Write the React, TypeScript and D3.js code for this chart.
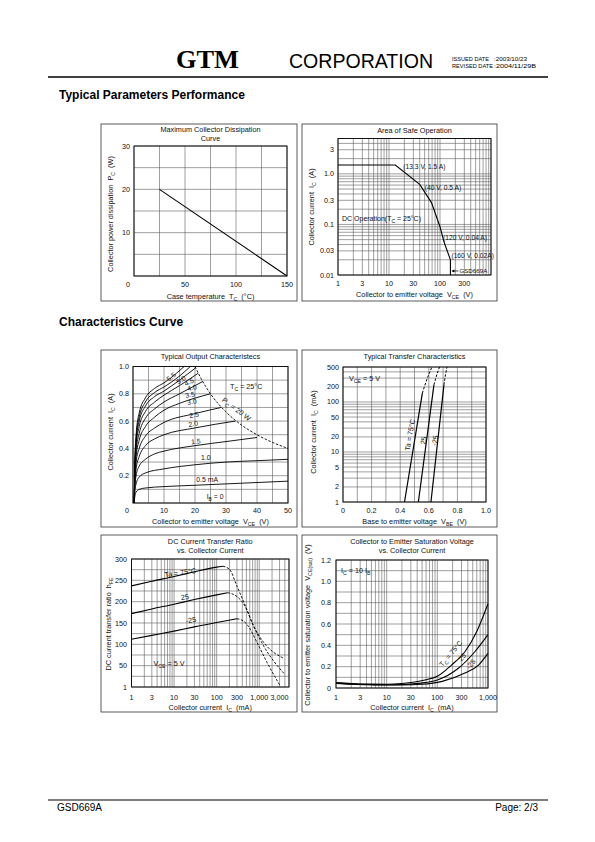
import React from "react";
import * as d3 from "d3";

const SANS = "'Liberation Sans', Arial, Helvetica, sans-serif";
const SERIF = "'Liberation Serif', 'Times New Roman', serif";
const GRID = "#5e5e5e";

type Pt = [number, number];
type Part = string | { sub: string };

// ---------------- page text ----------------
const headerBrand = "GTM";
const headerCorp = "CORPORATION";
const dateLabels = ["ISSUED DATE", "REVISED DATE"];
const dateValues = [":2003/10/23", ":2004/11/29B"];
const sectionTitles = ["Typical Parameters Performance", "Characteristics Curve"];
const footerLeft = "GSD669A";
const footerRight = "Page: 2/3";

// ---------------- Chart 1: Maximum Collector Dissipation ----------------
const dissXTicks = [0, 50, 100, 150];
const dissXLabels = ["0", "50", "100", "150"];
const dissYTicks = [30, 20, 10];
const dissYLabels = ["30", "20", "10"];
const dissGridX = [0, 25, 50, 75, 100, 125, 150];
const dissGridY = [0, 5, 10, 15, 20, 25, 30];
const dissCurve: Pt[] = [[25, 20], [150, 0]];

// ---------------- Chart 2: Area of Safe Operation ----------------
const asoXTicks = [1, 3, 10, 30, 100, 300];
const asoXLabels = ["1", "3", "10", "30", "100", "300"];
const asoYTicks = [3, 1, 0.3, 0.1, 0.03, 0.01];
const asoYLabels = ["3", "1.0", "0.3", "0.1", "0.03", "0.01"];
const asoGridX = [1, 2, 3, 4, 5, 6, 7, 8, 9, 10, 20, 30, 40, 50, 60, 70, 80, 90, 100, 200, 300, 400, 500, 600, 700, 800, 900, 1000];
const asoGridY = [0.01, 0.02, 0.03, 0.04, 0.05, 0.06, 0.07, 0.08, 0.09, 0.1, 0.2, 0.3, 0.4, 0.5, 0.6, 0.7, 0.8, 0.9, 1, 2, 3, 4, 5];
const asoVoltage = [1, 13.3, 40, 68, 100, 120, 160, 160];
const asoCurrent = [1.5, 1.5, 0.62, 0.27, 0.09, 0.045, 0.02, 0.01];

// ---------------- Chart 3: Typical Output Characteristics ----------------
const outXTicks = [0, 10, 20, 30, 40, 50];
const outXLabels = ["0", "10", "20", "30", "40", "50"];
const outYTicks = [1.0, 0.8, 0.6, 0.4, 0.2];
const outYLabels = ["1.0", "0.8", "0.6", "0.4", "0.2"];
const outGridX = [0, 5, 10, 15, 20, 25, 30, 35, 40, 45, 50];
const outGridY = [0, 0.1, 0.2, 0.3, 0.4, 0.5, 0.6, 0.7, 0.8, 0.9, 1.0];
const ib05: Pt[] = [[0.4, 0], [0.6, 0.05], [1, 0.08], [2, 0.1], [4, 0.11], [10, 0.12], [20, 0.13], [30, 0.14], [40, 0.15], [50, 0.16]];
const ib10: Pt[] = [[0.4, 0], [0.6, 0.09], [1, 0.14], [2, 0.19], [4, 0.22], [10, 0.25], [20, 0.28], [30, 0.3], [40, 0.31], [50, 0.32]];
const ib15: Pt[] = [[0.4, 0], [0.6, 0.12], [1, 0.2], [2, 0.27], [4, 0.32], [7, 0.36], [10, 0.38], [20, 0.42], [30, 0.45], [40, 0.48]];
const ib20: Pt[] = [[0.4, 0], [0.6, 0.15], [1, 0.25], [2, 0.34], [4, 0.42], [7, 0.47], [10, 0.5], [20, 0.55], [33, 0.6]];
const ib25: Pt[] = [[0.4, 0], [0.6, 0.18], [1, 0.3], [2, 0.4], [4, 0.49], [7, 0.55], [10, 0.59], [20, 0.655], [28.5, 0.7]];
const ib30: Pt[] = [[0.4, 0], [0.6, 0.21], [1, 0.34], [2, 0.46], [4, 0.56], [7, 0.63], [10, 0.68], [15, 0.73], [25, 0.8]];
const ib35: Pt[] = [[0.4, 0], [0.6, 0.23], [1, 0.38], [2, 0.51], [4, 0.62], [7, 0.69], [10, 0.74], [15, 0.8], [22.5, 0.89]];
const ib40: Pt[] = [[0.4, 0], [0.6, 0.25], [1, 0.42], [2, 0.56], [4, 0.67], [7, 0.74], [10, 0.79], [15, 0.86], [21, 0.95]];
const ib45: Pt[] = [[0.4, 0], [0.6, 0.27], [1, 0.45], [2, 0.6], [4, 0.71], [7, 0.78], [10, 0.82], [15, 0.9], [20.2, 0.99]];
const ib50: Pt[] = [[0.4, 0], [0.6, 0.28], [1, 0.47], [2, 0.63], [4, 0.74], [7, 0.81], [10, 0.85], [15, 0.93], [18.5, 1.0]];
const ib55: Pt[] = [[0.4, 0], [0.6, 0.3], [1, 0.5], [2, 0.66], [4, 0.77], [7, 0.84], [10, 0.88], [14, 0.95], [16.5, 1.0]];
const outCurves = [ib05, ib10, ib15, ib20, ib25, ib30, ib35, ib40, ib45, ib50, ib55];
const pcLimit: Pt[] = [[20, 1.0], [22, 0.91], [25, 0.8], [30, 0.667], [35, 0.571], [40, 0.5], [45, 0.444], [50, 0.4]];
const outLabelText = ["5.5", "5.0", "4.5", "4.0", "3.5", "3.0", "2.5", "2.0", "1.5", "1.0", "0.5 mA"];
const outLabelV = [12.3, 15.5, 18.1, 19.0, 18.4, 19.0, 19.7, 19.4, 20.3, 23.5, 23.9];
const outLabelI = [0.924, 0.902, 0.887, 0.844, 0.793, 0.742, 0.647, 0.58, 0.451, 0.335, 0.175];
const outLabelRot = [-40, -35, -25, -15, -12, -10, -10, -8, -5, 0, 0];

// ---------------- Chart 4: Typical Transfer Characteristics ----------------
const trXTicks = [0, 0.2, 0.4, 0.6, 0.8, 1.0];
const trXLabels = ["0", "0.2", "0.4", "0.6", "0.8", "1.0"];
const trYTicks = [500, 200, 100, 50, 20, 10, 5, 2, 1];
const trYLabels = ["500", "200", "100", "50", "20", "10", "5", "2", "1"];
const trGridX = [0, 0.1, 0.2, 0.3, 0.4, 0.5, 0.6, 0.7, 0.8, 0.9, 1.0];
const trGridY = [1, 2, 3, 4, 5, 6, 7, 8, 9, 10, 20, 30, 40, 50, 60, 70, 80, 90, 100, 200, 300, 400, 500];
const tr75Solid: Pt[] = [[0.43, 1], [0.555, 150]];
const tr75Dash: Pt[] = [[0.555, 150], [0.59, 300], [0.622, 500]];
const tr25Solid: Pt[] = [[0.527, 1], [0.636, 220]];
const tr25Dash: Pt[] = [[0.636, 220], [0.656, 350], [0.675, 500]];
const trM25Solid: Pt[] = [[0.615, 1], [0.706, 220]];
const trM25Dash: Pt[] = [[0.706, 220], [0.717, 350], [0.727, 500]];

// ---------------- Chart 5: hFE vs IC ----------------
const hfeXTicks = [1, 3, 10, 30, 100, 300, 1000, 3000];
const hfeXLabels = ["1", "3", "10", "30", "100", "300", "1,000", "3,000"];
const hfeYTicks = [300, 250, 200, 150, 100, 50, 0];
const hfeYLabels = ["300", "250", "200", "150", "100", "50", "1"];
const hfeGridX = [1, 2, 3, 4, 5, 6, 7, 8, 9, 10, 20, 30, 40, 50, 60, 70, 80, 90, 100, 200, 300, 400, 500, 600, 700, 800, 900, 1000, 2000, 3000, 4000, 5000];
const hfeGridY = [0, 25, 50, 75, 100, 125, 150, 175, 200, 225, 250, 275, 300];
const hfe75Solid: Pt[] = [[1, 237], [3, 248], [10, 259], [30, 270], [100, 281], [140, 283]];
const hfe75Dash: Pt[] = [[140, 283], [200, 276], [295, 238], [500, 184], [720, 145], [1240, 106], [3800, 67]];
const hfe25Solid: Pt[] = [[1, 172], [3, 183], [10, 194], [30, 205], [100, 216], [180, 221]];
const hfe25Dash: Pt[] = [[180, 221], [300, 212], [460, 190], [720, 145], [1240, 98], [3800, 32]];
const hfeM25Solid: Pt[] = [[1, 112], [3, 121], [10, 131], [30, 141], [100, 151], [300, 160]];
const hfeM25Dash: Pt[] = [[300, 160], [420, 155], [550, 143], [870, 106], [1500, 59], [3000, 5]];

// ---------------- Chart 6: VCE(sat) vs IC ----------------
const satXTicks = [1, 3, 10, 30, 100, 300, 1000];
const satXLabels = ["1", "3", "10", "30", "100", "300", "1,000"];
const satYTicks = [1.2, 1.0, 0.8, 0.6, 0.4, 0.2, 0];
const satYLabels = ["1.2", "1.0", "0.8", "0.6", "0.4", "0.2", "0"];
const satGridX = [1, 2, 3, 4, 5, 6, 7, 8, 9, 10, 20, 30, 40, 50, 60, 70, 80, 90, 100, 200, 300, 400, 500, 600, 700, 800, 900, 1000];
const satGridY = [0, 0.1, 0.2, 0.3, 0.4, 0.5, 0.6, 0.7, 0.8, 0.9, 1.0, 1.1, 1.2];
const sat75: Pt[] = [[1, 0.05], [2, 0.042], [5, 0.036], [10, 0.035], [20, 0.042], [57, 0.075], [100, 0.11], [190, 0.215], [350, 0.34], [600, 0.53], [1000, 0.79]];
const sat25: Pt[] = [[1, 0.046], [2, 0.038], [5, 0.032], [10, 0.03], [20, 0.033], [57, 0.05], [100, 0.075], [260, 0.185], [550, 0.34], [1000, 0.5]];
const satM25: Pt[] = [[1, 0.042], [2, 0.035], [5, 0.03], [10, 0.028], [20, 0.028], [50, 0.035], [120, 0.06], [350, 0.14], [650, 0.215], [1000, 0.325]];

// ---------------- helpers ----------------
function Rich({ x, y, parts, size = 7.3, anchor = "start", rotate = 0, weight = "normal" }: any) {
  const nodes: any[] = [];
  let inSub = false;
  (parts as Part[]).forEach((p, i) => {
    if (typeof p === "string") {
      nodes.push(
        <tspan key={i} fontSize={size} dy={inSub ? -size * 0.3 : 0}>
          {p}
        </tspan>
      );
      inSub = false;
    } else {
      nodes.push(
        <tspan key={i} fontSize={size * 0.72} dy={inSub ? 0 : size * 0.3}>
          {p.sub}
        </tspan>
      );
      inSub = true;
    }
  });
  return (
    <text
      x={x}
      y={y}
      textAnchor={anchor}
      fontFamily={SANS}
      fontWeight={weight}
      fontSize={size}
      fill="#111"
      transform={rotate ? `rotate(${rotate} ${x} ${y})` : undefined}
      style={{ whiteSpace: "pre" }}
    >
      {nodes}
    </text>
  );
}

function Panel(props: any) {
  const {
    box, plot, x, y, gridX, gridY, xTicks, xLabels, yTicks, yLabels,
    xLabelY, yLabelX, firstXLabelDx = 0, title, titleY, xTitle, xTitleY,
    yTitle, yTitleX, yTitleY, children,
  } = props;
  const [bx, by, bw, bh] = box;
  const cx = (plot.l + plot.r) / 2;
  return (
    <g>
      <rect x={bx} y={by} width={bw} height={bh} fill="#fff" stroke="#333" strokeWidth={0.8} />
      {gridX.map((v: number, i: number) => (
        <line key={"gx" + i} x1={x(v)} x2={x(v)} y1={plot.t} y2={plot.b} stroke={GRID} strokeWidth={0.6} />
      ))}
      {gridY.map((v: number, i: number) => (
        <line key={"gy" + i} x1={plot.l} x2={plot.r} y1={y(v)} y2={y(v)} stroke={GRID} strokeWidth={0.6} />
      ))}
      <rect x={plot.l} y={plot.t} width={plot.r - plot.l} height={plot.b - plot.t} fill="none" stroke="#111" strokeWidth={1} />
      {children}
      {xTicks.map((v: number, i: number) => (
        <text key={"xt" + i} x={x(v) + (i === 0 ? firstXLabelDx : 0)} y={xLabelY} textAnchor="middle" fontFamily={SANS} fontSize={7.2} fill="#111">
          {xLabels[i]}
        </text>
      ))}
      {yTicks.map((v: number, i: number) => (
        <text key={"yt" + i} x={yLabelX} y={y(v) + 2.5} textAnchor="end" fontFamily={SANS} fontSize={7.2} fill="#111">
          {yLabels[i]}
        </text>
      ))}
      {title.map((t: string, i: number) => (
        <text key={"ti" + i} x={cx} y={titleY + i * 9.8} textAnchor="middle" fontFamily={SANS} fontSize={7.3} fill="#111">
          {t}
        </text>
      ))}
      <Rich x={cx} y={xTitleY} parts={xTitle} anchor="middle" />
      <Rich x={yTitleX} y={yTitleY} parts={yTitle} anchor="middle" rotate={-90} />
    </g>
  );
}

function path(x: any, y: any, pts: Pt[], curve: any = d3.curveLinear) {
  return d3.line<Pt>().x((d) => x(d[0])).y((d) => y(d[1])).curve(curve)(pts) || "";
}

function Label({ x, y, rot = 0, size = 7, anchor = "middle", children }: any) {
  return (
    <text x={x} y={y + size * 0.35} textAnchor={anchor} fontFamily={SANS} fontSize={size} fill="#111"
      transform={rot ? `rotate(${rot} ${x} ${y})` : undefined}>
      {children}
    </text>
  );
}

// ---------------- charts ----------------
function DissChart() {
  const plot = { l: 134, r: 287, t: 146, b: 276 };
  const x = d3.scaleLinear().domain([0, 150]).range([plot.l, plot.r]);
  const y = d3.scaleLinear().domain([0, 30]).range([plot.b, plot.t]);
  return (
    <Panel box={[101, 124, 196, 177]} plot={plot} x={x} y={y} gridX={dissGridX} gridY={dissGridY}
      xTicks={dissXTicks} xLabels={dissXLabels} yTicks={dissYTicks} yLabels={dissYLabels}
      xLabelY={287} yLabelX={130} firstXLabelDx={-6}
      title={["Maximum Collector Dissipation", "Curve"]} titleY={131.5}
      xTitle={["Case temperature  T", { sub: "C" }, "  (°C)"]} xTitleY={298.5}
      yTitle={["Collector power dissipation  P", { sub: "C" }, "  (W)"]} yTitleX={112.5} yTitleY={214}>
      <path d={path(x, y, dissCurve)} fill="none" stroke="#000" strokeWidth={1.1} />
    </Panel>
  );
}

function AsoChart() {
  const plot = { l: 338, r: 491, t: 138.5, b: 275 };
  const x = d3.scaleLog().domain([1, 1000]).range([plot.l, plot.r]);
  const y = d3.scaleLog().domain([0.01, 5]).range([plot.b, plot.t]);
  const pts: Pt[] = asoVoltage.map((v, i) => [v, asoCurrent[i]]);
  const s = 6.7;
  return (
    <Panel box={[302, 124, 195, 177]} plot={plot} x={x} y={y} gridX={asoGridX} gridY={asoGridY}
      xTicks={asoXTicks} xLabels={asoXLabels} yTicks={asoYTicks} yLabels={asoYLabels}
      xLabelY={286} yLabelX={334}
      title={["Area of Safe Operation"]} titleY={132.5}
      xTitle={["Collector to emitter voltage  V", { sub: "CE" }, "  (V)"]} xTitleY={297}
      yTitle={["Collector current  I", { sub: "C" }, "  (A)"]} yTitleX={314} yTitleY={207}>
      <path d={path(x, y, pts)} fill="none" stroke="#000" strokeWidth={1.1} />
      <Label x={x(13.3) + 8} y={y(1.5) + 1.5} size={s} anchor="start">(13.3 V, 1.5 A)</Label>
      <Label x={x(40) + 5} y={y(0.5) - 1.5} size={s} anchor="start">(40 V, 0.5 A)</Label>
      <Rich x={plot.l + 4} y={220.5} parts={["DC Operation(T", { sub: "C" }, " = 25°C)"]} size={7} />
      <Label x={x(120) - 1} y={y(0.04) - 7} size={s} anchor="start">(120 V, 0.04 A)</Label>
      <Label x={x(160) + 1} y={y(0.02) - 4} size={s} anchor="start">(160 V, 0.02A)</Label>
      <line x1={x(160) + 2} x2={x(160) + 8} y1={y(0.012)} y2={y(0.012)} stroke="#000" strokeWidth={0.7} />
      <path d={`M${x(160) + 1},${y(0.012)} l3,-1.5 l0,3 z`} fill="#000" />
      <Label x={x(160) + 9} y={y(0.012)} size={6.2} anchor="start">GSD669A</Label>
    </Panel>
  );
}

function OutputChart() {
  const plot = { l: 133, r: 288, t: 366.5, b: 503 };
  const x = d3.scaleLinear().domain([0, 50]).range([plot.l, plot.r]);
  const y = d3.scaleLinear().domain([0, 1]).range([plot.b, plot.t]);
  return (
    <Panel box={[101, 350, 196, 177]} plot={plot} x={x} y={y} gridX={outGridX} gridY={outGridY}
      xTicks={outXTicks} xLabels={outXLabels} yTicks={outYTicks} yLabels={outYLabels}
      xLabelY={513} yLabelX={129} firstXLabelDx={-6}
      title={["Typical Output Characteristecs"]} titleY={358.5}
      xTitle={["Collector to emitter voltage  V", { sub: "CE" }, "  (V)"]} xTitleY={524}
      yTitle={["Collector current  I", { sub: "C" }, "  (A)"]} yTitleX={112.5} yTitleY={432}>
      {outCurves.map((c, i) => (
        <path key={i} d={path(x, y, c, d3.curveMonotoneX)} fill="none" stroke="#000" strokeWidth={0.9} />
      ))}
      <path d={path(x, y, pcLimit, d3.curveMonotoneX)} fill="none" stroke="#000" strokeWidth={0.9} strokeDasharray="2.5,1.6" />
      {outLabelText.map((t, i) => (
        <Label key={"ol" + i} x={x(outLabelV[i])} y={y(outLabelI[i])} rot={outLabelRot[i]} size={6.9}>{t}</Label>
      ))}
      <Rich x={x(26.5)} y={y(0.044) + 2.4} parts={["I", { sub: "B" }, " = 0"]} size={6.9} anchor="middle" />
      <Rich x={x(31.3)} y={y(0.853) + 2.5} parts={["T", { sub: "C" }, " = 25°C"]} size={7.2} />
      <Rich x={x(32.9)} y={y(0.69) + 2.4} parts={["P", { sub: "C" }, " = 20 W"]} size={7.2} anchor="middle" rotate={37} />
    </Panel>
  );
}

function TransferChart() {
  const plot = { l: 343, r: 486, t: 367, b: 502 };
  const x = d3.scaleLinear().domain([0, 1]).range([plot.l, plot.r]);
  const y = d3.scaleLog().domain([1, 500]).range([plot.b, plot.t]);
  const dash = "2.5,1.6";
  return (
    <Panel box={[302, 350, 195, 177]} plot={plot} x={x} y={y} gridX={trGridX} gridY={trGridY}
      xTicks={trXTicks} xLabels={trXLabels} yTicks={trYTicks} yLabels={trYLabels}
      xLabelY={513} yLabelX={339}
      title={["Typical Transfer Characteristics"]} titleY={358.5}
      xTitle={["Base to emitter voltage  V", { sub: "BE" }, "  (V)"]} xTitleY={524}
      yTitle={["Collector current  I", { sub: "C" }, "  (mA)"]} yTitleX={316} yTitleY={432}>
      {[tr75Solid, tr25Solid, trM25Solid].map((c, i) => (
        <path key={"s" + i} d={path(x, y, c)} fill="none" stroke="#000" strokeWidth={1.2} />
      ))}
      {[tr75Dash, tr25Dash, trM25Dash].map((c, i) => (
        <path key={"d" + i} d={path(x, y, c, d3.curveMonotoneY)} fill="none" stroke="#000" strokeWidth={1} strokeDasharray={dash} />
      ))}
      <Rich x={plot.l + 6} y={y(300) + 2.5} parts={["V", { sub: "CE" }, " = 5 V"]} size={7.2} />
      <Label x={x(0.468)} y={y(22)} rot={-80} size={7.2}>Ta = 75°C</Label>
      <Label x={x(0.563)} y={y(17)} rot={-80} size={7.2}>25</Label>
      <Label x={x(0.643)} y={y(17)} rot={-80} size={7.2}>-25</Label>
    </Panel>
  );
}

function HfeChart() {
  const plot = { l: 131.5, r: 289, t: 559, b: 687 };
  const x = d3.scaleLog().domain([1, 5000]).range([plot.l, plot.r]);
  const y = d3.scaleLinear().domain([0, 300]).range([plot.b, plot.t]);
  const dash = "2.5,1.6";
  return (
    <Panel box={[101, 535, 196, 177]} plot={plot} x={x} y={y} gridX={hfeGridX} gridY={hfeGridY}
      xTicks={hfeXTicks} xLabels={hfeXLabels} yTicks={hfeYTicks} yLabels={hfeYLabels}
      xLabelY={699.5} yLabelX={127}
      title={["DC Current Transfer Ratio", "vs. Collector Current"]} titleY={543.5}
      xTitle={["Collector current  I", { sub: "C" }, "  (mA)"]} xTitleY={709.5}
      yTitle={["DC current transfer ratio  h", { sub: "FE" }]} yTitleX={110.5} yTitleY={624}>
      {[hfe75Solid, hfe25Solid, hfeM25Solid].map((c, i) => (
        <path key={"s" + i} d={path(x, y, c, d3.curveMonotoneX)} fill="none" stroke="#000" strokeWidth={1.1} />
      ))}
      {[hfe75Dash, hfe25Dash, hfeM25Dash].map((c, i) => (
        <path key={"d" + i} d={path(x, y, c, d3.curveMonotoneX)} fill="none" stroke="#000" strokeWidth={0.9} strokeDasharray={dash} />
      ))}
      <Label x={x(14)} y={y(268)} rot={-8} size={7.2}>Ta = 75°C</Label>
      <Label x={x(18)} y={y(211)} rot={-8} size={7.2}>25</Label>
      <Label x={x(25)} y={y(157)} rot={-8} size={7.2}>-25</Label>
      <Rich x={x(3.3)} y={y(55) + 2.5} parts={["V", { sub: "CE" }, " = 5 V"]} size={7.2} />
    </Panel>
  );
}

function SatChart() {
  const plot = { l: 336, r: 488, t: 560, b: 688 };
  const x = d3.scaleLog().domain([1, 1000]).range([plot.l, plot.r]);
  const y = d3.scaleLinear().domain([0, 1.2]).range([plot.b, plot.t]);
  return (
    <Panel box={[302, 535, 195, 177]} plot={plot} x={x} y={y} gridX={satGridX} gridY={satGridY}
      xTicks={satXTicks} xLabels={satXLabels} yTicks={satYTicks} yLabels={satYLabels}
      xLabelY={699.5} yLabelX={331}
      title={["Collector to Emitter Saturation Voltage", "vs. Collector Current"]} titleY={543.5}
      xTitle={["Collector current  I", { sub: "C" }, "  (mA)"]} xTitleY={709.5}
      yTitle={["Collector to emitter saturation voltage  V", { sub: "CE(sat)" }, "  (V)"]} yTitleX={309.5} yTitleY={625}>
      {[sat75, sat25, satM25].map((c, i) => (
        <path key={i} d={path(x, y, c, d3.curveMonotoneX)} fill="none" stroke="#000" strokeWidth={1.1} />
      ))}
      <Rich x={plot.l + 5} y={y(1.1) + 2.5} parts={["I", { sub: "C" }, " = 10 I", { sub: "B" }]} size={7.2} />
      <Rich x={x(200)} y={y(0.33) + 2.4} parts={["T", { sub: "C" }, " = 75°C"]} size={7} anchor="middle" rotate={-50} />
      <Label x={x(310)} y={y(0.29)} rot={-50} size={7}>25</Label>
      <Label x={x(460)} y={y(0.225)} rot={-50} size={7}>-25</Label>
    </Panel>
  );
}

export default function App() {
  return (
    <svg width={595} height={842} viewBox="0 0 595 842" style={{ position: "absolute", left: 0, top: 0, background: "#fff" }}>
      <rect x={0} y={0} width={595} height={842} fill="#fff" />
      {/* header */}
      <text x={176} y={68} fontFamily={SERIF} fontWeight="bold" fontSize={25} textLength={63} lengthAdjust="spacingAndGlyphs" fill="#000">
        {headerBrand}
      </text>
      <text x={289} y={68} fontFamily={SANS} fontSize={21} textLength={144} lengthAdjust="spacingAndGlyphs" fill="#000">
        {headerCorp}
      </text>
      {dateLabels.map((t, i) => (
        <g key={"dl" + i}>
          <text x={452} y={61 + i * 7.2} fontFamily={SANS} fontSize={6.2} textLength={i === 0 ? 37 : 41} lengthAdjust="spacingAndGlyphs" fill="#000">{t}</text>
          <text x={494} y={61 + i * 7.2} fontFamily={SANS} fontSize={5.8} textLength={i === 0 ? 33 : 42} lengthAdjust="spacingAndGlyphs" fill="#000">{dateValues[i]}</text>
        </g>
      ))}
      <line x1={48} x2={548} y1={77} y2={77} stroke="#000" strokeWidth={1.6} />
      <text x={59} y={99} fontFamily={SANS} fontWeight="bold" fontSize={12} fill="#000">{sectionTitles[0]}</text>
      <text x={59} y={326} fontFamily={SANS} fontWeight="bold" fontSize={12} fill="#000">{sectionTitles[1]}</text>

      <DissChart />
      <AsoChart />
      <OutputChart />
      <TransferChart />
      <HfeChart />
      <SatChart />

      {/* footer */}
      <line x1={48} x2={548} y1={800} y2={800} stroke="#000" strokeWidth={1.2} />
      <text x={57} y={811} fontFamily={SANS} fontSize={10} fill="#000">{footerLeft}</text>
      <text x={538} y={811} textAnchor="end" fontFamily={SANS} fontSize={10} fill="#000">{footerRight}</text>
    </svg>
  );
}
